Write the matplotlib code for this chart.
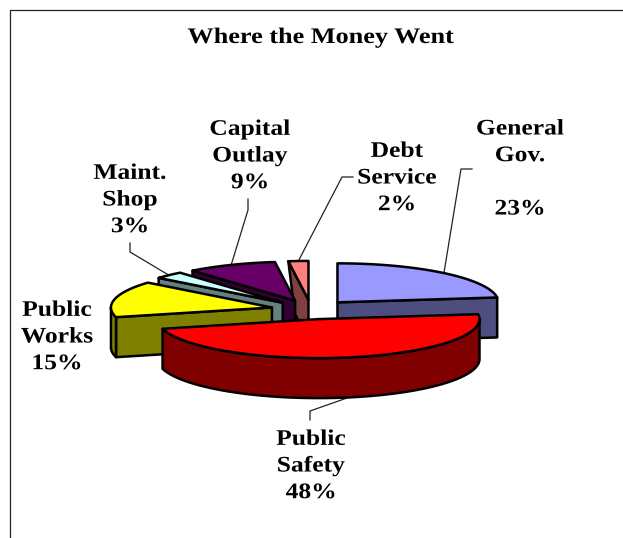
import numpy as np
import matplotlib
matplotlib.use("Agg")
import matplotlib.pyplot as plt
from matplotlib.patches import Polygon
from matplotlib.patheffects import AbstractPathEffect
from matplotlib.transforms import Affine2D

plt.rcParams['font.family'] = ['Liberation Serif', 'DejaVu Serif']

# data, clockwise from 12 o'clock
categories = ["General\nGov.", "Public\nSafety", "Public\nWorks", "Maint.\nShop", "Capital\nOutlay", "Debt\nService"]
shares = [23, 48, 15, 3, 9, 2]
top_colors = ["#9999FF", "#FF0000", "#FFFF00", "#CCFFFF", "#660066", "#FF8080"]
side_colors = ["#4D4D80", "#800000", "#808000", "#668080", "#330033", "#804040"]
title = "Where the Money Went"

# label text centre and leader elbow points, in pixels
label_pos = [(520, 169.5), (311, 466.5), (57, 337.5), (130, 200.5), (250, 156.5), (397, 178.5)]
leader_pts = [[(461, 169), (472, 169)], [(310, 411), (310, 420)], None,
              [(130, 252), (130, 243)], [(248, 210), (248, 199)], [(342, 177), (353, 177)]]

CX, CY = 311, 309.6
RX, RY = 161, 39
DEPTH = 40
EXPLODE = 40
FONT = 16
DPI = 100


class WideText(AbstractPathEffect):
    # the reference text is letter spaced, widen each line about its centre
    def __init__(self, factor):
        super().__init__()
        self.factor = factor

    def draw_path(self, renderer, gc, tpath, affine, rgbFace=None):
        box = tpath.transformed(affine).get_extents()
        mid = (box.x0 + box.x1) / 2
        wide = affine + Affine2D().translate(-mid, 0).scale(self.factor, 1).translate(mid, 0)
        renderer.draw_path(gc, tpath, wide, rgbFace)


def rim(apex, ang):
    # ang in degrees clockwise from top, y goes down in pixels
    a = np.radians(ang)
    return apex[0] + RX * np.sin(a), apex[1] - RY * np.cos(a)


def draw_slice(ax, a0, a1, top, side):
    mid = np.radians((a0 + a1) / 2)
    apex = (CX + EXPLODE * np.sin(mid), CY - EXPLODE * RY / RX * np.cos(mid))
    apex_low = (apex[0], apex[1] + DEPTH)
    kw = dict(ec="black", lw=1.8, joinstyle="round")
    # cut faces facing the viewer
    if a1 < 180:
        r = rim(apex, a1)
        ax.add_patch(Polygon([apex, r, (r[0], r[1] + DEPTH), apex_low], fc=side, **kw))
    if a0 > 180:
        r = rim(apex, a0)
        # the narrow back slice narrows towards its foot
        t = 0.67 if a1 - a0 < 10 and a1 == 360 else 1.0
        low = (apex_low[0] + t * (r[0] - apex_low[0]), apex_low[1] + t * (r[1] - apex[1]))
        ax.add_patch(Polygon([apex, r, low, apex_low], fc=side, **kw))
    # outer wall
    w0, w1 = max(a0, 90), min(a1, 270)
    if w0 < w1:
        angs = np.linspace(w0, w1, 60)
        up = [rim(apex, x) for x in angs]
        down = [(x, y + DEPTH) for x, y in up][::-1]
        ax.add_patch(Polygon(up + down, fc=side, **kw))
    # top surface
    angs = np.linspace(a0, a1, 60)
    ax.add_patch(Polygon([apex] + [rim(apex, x) for x in angs], fc=top, **kw))
    return apex


fig = plt.figure(figsize=(6.23, 5.38), dpi=DPI)
ax = fig.add_axes([0, 0, 1, 1])
ax.set_xlim(0, 623)
ax.set_ylim(538, 0)
ax.axis("off")

# chart frame, only top and left show
ax.plot([10, 10, 623], [538, 10, 10], color="#222222", lw=0.9)
ax.text(321, 38, title, fontsize=FONT, fontweight="bold", ha="center", va="center",
        path_effects=[WideText(1.18)])

edges = np.cumsum([0] + shares) / sum(shares) * 360
mids = (edges[:-1] + edges[1:]) / 2
order = np.argsort(-np.cos(np.radians(mids)))
apexes = {}
for i in order:
    apexes[i] = draw_slice(ax, edges[i], edges[i + 1], top_colors[i], side_colors[i])

for i, name in enumerate(categories):
    if leader_pts[i] is not None:
        start = rim(apexes[i], mids[i])
        if 90 < mids[i] < 270:
            start = (start[0], start[1] + DEPTH)
        pts = [start] + leader_pts[i]
        ax.plot([p[0] for p in pts], [p[1] for p in pts], color="#222222", lw=0.9, zorder=0.5)
    gap = "\n\n" if name.startswith("General") else "\n"
    ax.text(label_pos[i][0], label_pos[i][1], f"{name}{gap}{shares[i]}%", fontsize=FONT,
            fontweight="bold", ha="center", va="center", linespacing=1.445,
            path_effects=[WideText(1.15)])

fig.savefig("out.png", dpi=DPI)
